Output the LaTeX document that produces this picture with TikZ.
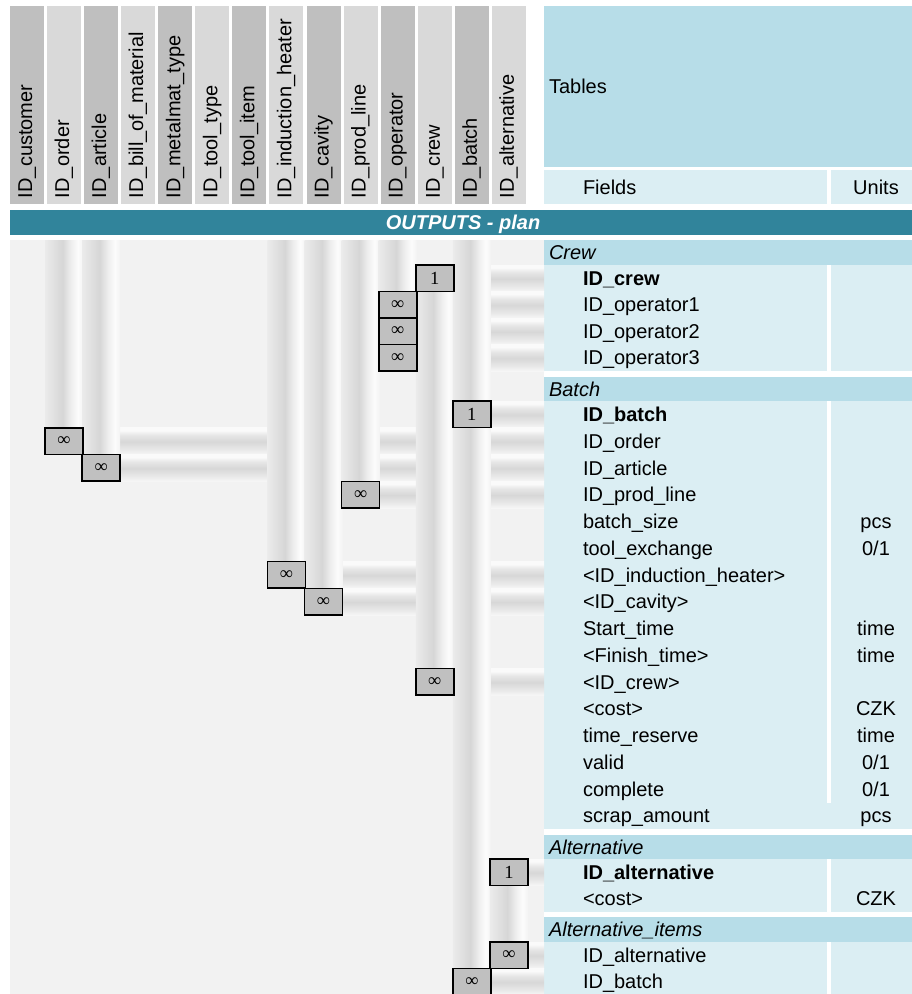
\documentclass[tikz,border=0pt]{standalone}
\usepackage{tikz}
\usepackage{fontspec}
\setmainfont{Liberation Sans}
\newfontfamily\cardfont{Liberation Serif}

\pgfdeclarelayer{bg}
\pgfdeclarelayer{pipes}
\pgfsetlayers{bg,pipes,main}

% palette
\definecolor{hdrdark}{HTML}{BFBFBF}
\definecolor{hdrlight}{HTML}{D9D9D9}
\definecolor{tabhead}{HTML}{B7DDE8}
\definecolor{tabrow}{HTML}{DBEEF3}
\definecolor{barteal}{HTML}{31849B}
\definecolor{plotgray}{HTML}{F2F2F2}
\definecolor{boxgray}{HTML}{C0C0C0}
% tones of the tube-like relation runs
\definecolor{vpA}{HTML}{EBEBEB}
\definecolor{vpB}{HTML}{E1E1E1}
\definecolor{vpC}{HTML}{D6D6D6}
\definecolor{vpD}{HTML}{EEEEEE}
\definecolor{vpE}{HTML}{FCFCFC}
\definecolor{vpF}{HTML}{F3F3F3}
\definecolor{hpA}{HTML}{F6F6F6}
\definecolor{hpB}{HTML}{E9E9E9}
\definecolor{hpC}{HTML}{D7D7D7}
\definecolor{hpD}{HTML}{E6E6E6}
\definecolor{hpE}{HTML}{FAFAFA}

\pgfdeclarehorizontalshading{vtube}{100bp}{color(0bp)=(vpA); color(25bp)=(vpA); color(36bp)=(vpB); color(48bp)=(vpC); color(59bp)=(vpD); color(68bp)=(vpE); color(75bp)=(vpF); color(100bp)=(vpF)}
\pgfdeclareverticalshading{htube}{100bp}{color(0bp)=(hpA); color(25bp)=(hpA); color(34bp)=(hpB); color(49bp)=(hpC); color(61bp)=(hpD); color(70bp)=(hpE); color(75bp)=(hpE); color(100bp)=(hpE)}

\tikzset{
  every node/.style={inner sep=0pt, outer sep=0pt},
  txt/.style={font=\fontsize{20}{24}\selectfont},
  colhead/.style={txt, rotate=90, anchor=base west},
  fieldrow/.style={txt, anchor=west, inner xsep=39pt, text height=14.3pt, text depth=0pt},
  sechead/.style={font=\fontsize{20}{24}\selectfont\itshape, anchor=west, inner xsep=5pt, text height=14.3pt, text depth=0pt},
  unitcell/.style={txt, text height=14.3pt, text depth=0pt},
  relbox/.style={draw=black, line width=1.6pt, fill=boxgray, minimum width=38pt, minimum height=26.6pt, font=\cardfont\fontsize{18.5}{18.5}\selectfont},
  vrun/.style={shading=vtube},
  hrun/.style={shading=htube},
}
% horizontal run from a key box to the left edge of its table row
\newcommand\keyrun[2]{\shade[hrun] (#1.east |- #2.north) rectangle (#2.south west);}

\begin{document}
\begin{tikzpicture}[x=1pt,y=-1pt]
\useasboundingbox (0,0) rectangle (912,994);

\begin{pgfonlayer}{bg}
  \fill[white] (0,0) rectangle (912,994);
  % key columns
  \foreach \i/\c in {0/hdrdark,1/hdrlight,2/hdrdark,3/hdrlight,4/hdrdark,5/hdrlight,6/hdrdark,7/hdrlight,8/hdrdark,9/hdrlight,10/hdrdark,11/hdrlight,12/hdrdark,13/hdrlight}
    \fill[\c] ({10+37.07*\i},6) rectangle ++(34,198);
  % table heading
  \fill[tabhead] (544,6) rectangle (912,167);
  \fill[tabrow] (544,170) rectangle (827,204);
  \fill[tabrow] (831,170) rectangle (912,204);
  % title bar
  \fill[barteal] (10,210) rectangle (912,235);
  % relation area
  \fill[plotgray] (10,240) rectangle (544,994);
  % Crew
  \fill[tabhead] (544,240) rectangle (912,265);
  \fill[tabrow] (544,265) rectangle (912,371);
  \fill[white] (827,265) rectangle (831,371);
  % Batch
  \fill[tabhead] (544,377) rectangle (912,401);
  \fill[tabrow] (544,401) rectangle (912,829);
  \fill[white] (827,401) rectangle (831,803);
  % Alternative
  \fill[tabhead] (544,835) rectangle (912,859);
  \fill[tabrow] (544,859) rectangle (912,912);
  \fill[white] (827,859) rectangle (831,912);
  % Alternative_items
  \fill[tabhead] (544,917) rectangle (912,942);
  \fill[tabrow] (544,942) rectangle (912,994);
  \fill[white] (827,942) rectangle (831,994);
\end{pgfonlayer}

% column key names
\foreach \i/\t in {0/customer,1/order,2/article,3/bill\_of\_material,4/metalmat\_type,5/tool\_type,6/tool\_item,7/induction\_heater,8/cavity,9/prod\_line,10/operator,11/crew,12/batch,13/alternative}
  \node[colhead] (head\i) at ({32+37.07*\i},198) {ID\_\t};
\foreach \i in {0,...,13}
  \coordinate (c\i) at ({27+37.07*\i},240);
\coordinate (ux) at (876,0);

\node[txt, anchor=base west] (tables) at (549,93) {Tables};
\node[txt, anchor=base west] (fields) at (583,194) {Fields};
\node[txt, anchor=base] (units) at (876,194) {Units};
\node[text=white, font=\fontsize{20}{24}\selectfont\bfseries\itshape, text height=14.3pt, text depth=0pt] (title) at (463,222.5) {OUTPUTS - plan};

% table headings
\node[sechead] (t-crew) at (544,252.5) {Crew};
\node[sechead] (t-batch) at (544,389) {Batch};
\node[sechead] (t-alt) at (544,847) {Alternative};
\node[sechead] (t-items) at (544,929.5) {Alternative\_items};

% Crew fields
\node[fieldrow, minimum height=26.5pt] (crew-id) at (544,278.25) {\textbf{ID\_crew}};
\node[fieldrow, minimum height=26.5pt] (crew-op1) at (544,304.75) {ID\_operator1};
\node[fieldrow, minimum height=26.5pt] (crew-op2) at (544,331.25) {ID\_operator2};
\node[fieldrow, minimum height=26.5pt] (crew-op3) at (544,357.75) {ID\_operator3};

% Batch fields
\node[fieldrow, minimum height=26.75pt] (b-id) at (544,414.375) {\textbf{ID\_batch}};
\node[fieldrow, minimum height=26.75pt] (b-order) at (544,441.125) {ID\_order};
\node[fieldrow, minimum height=26.75pt] (b-article) at (544,467.875) {ID\_article};
\node[fieldrow, minimum height=26.75pt] (b-line) at (544,494.625) {ID\_prod\_line};
\node[fieldrow, minimum height=26.75pt] (b-size) at (544,521.375) {batch\_size};
\node[fieldrow, minimum height=26.75pt] (b-tool) at (544,548.125) {tool\_exchange};
\node[fieldrow, minimum height=26.75pt] (b-heater) at (544,574.875) {<ID\_induction\_heater>};
\node[fieldrow, minimum height=26.75pt] (b-cavity) at (544,601.625) {<ID\_cavity>};
\node[fieldrow, minimum height=26.75pt] (b-start) at (544,628.375) {Start\_time};
\node[fieldrow, minimum height=26.75pt] (b-finish) at (544,655.125) {<Finish\_time>};
\node[fieldrow, minimum height=26.75pt] (b-crew) at (544,681.875) {<ID\_crew>};
\node[fieldrow, minimum height=26.75pt] (b-cost) at (544,708.625) {<cost>};
\node[fieldrow, minimum height=26.75pt] (b-reserve) at (544,735.375) {time\_reserve};
\node[fieldrow, minimum height=26.75pt] (b-valid) at (544,762.125) {valid};
\node[fieldrow, minimum height=26.75pt] (b-complete) at (544,788.875) {complete};
\node[fieldrow, minimum height=26.75pt] (b-scrap) at (544,815.625) {scrap\_amount};

% Alternative fields
\node[fieldrow, minimum height=26.5pt] (a-id) at (544,872.25) {\textbf{ID\_alternative}};
\node[fieldrow, minimum height=26.5pt] (a-cost) at (544,898.75) {<cost>};

% Alternative_items fields
\node[fieldrow, minimum height=26.5pt] (i-alt) at (544,955.25) {ID\_alternative};
\node[fieldrow, minimum height=26.5pt] (i-batch) at (544,981.75) {ID\_batch};

% units
\node[unitcell] (u-size) at (b-size -| ux) {pcs};
\node[unitcell] (u-tool) at (b-tool -| ux) {0/1};
\node[unitcell] (u-start) at (b-start -| ux) {time};
\node[unitcell] (u-finish) at (b-finish -| ux) {time};
\node[unitcell] (u-cost) at (b-cost -| ux) {CZK};
\node[unitcell] (u-reserve) at (b-reserve -| ux) {time};
\node[unitcell] (u-valid) at (b-valid -| ux) {0/1};
\node[unitcell] (u-complete) at (b-complete -| ux) {0/1};
\node[unitcell] (u-scrap) at (b-scrap -| ux) {pcs};
\node[unitcell] (u-acost) at (a-cost -| ux) {CZK};

% cardinality boxes
\node[relbox] (k1) at (crew-id -| c11) {1};
\node[relbox] (o1) at (crew-op1 -| c10) {∞};
\node[relbox] (o2) at (crew-op2 -| c10) {∞};
\node[relbox] (o3) at (crew-op3 -| c10) {∞};
\node[relbox] (bb) at (b-id -| c12) {1};
\node[relbox] (bo) at (b-order -| c1) {∞};
\node[relbox] (ba) at (b-article -| c2) {∞};
\node[relbox] (bp) at (b-line -| c9) {∞};
\node[relbox] (bi) at (b-heater -| c7) {∞};
\node[relbox] (bc) at (b-cavity -| c8) {∞};
\node[relbox] (bk) at (b-crew -| c11) {∞};
\node[relbox] (a1) at (a-id -| c13) {1};
\node[relbox] (ia) at (i-alt -| c13) {∞};
\node[relbox] (ib) at (i-batch -| c12) {∞};

\begin{pgfonlayer}{pipes}
  % runs from each box to its field
  \keyrun{k1}{crew-id}
  \keyrun{o1}{crew-op1}
  \keyrun{o2}{crew-op2}
  \keyrun{o3}{crew-op3}
  \keyrun{bb}{b-id}
  \keyrun{bo}{b-order}
  \keyrun{ba}{b-article}
  \keyrun{bp}{b-line}
  \keyrun{bi}{b-heater}
  \keyrun{bc}{b-cavity}
  \keyrun{bk}{b-crew}
  \keyrun{a1}{a-id}
  \keyrun{ia}{i-alt}
  \keyrun{ib}{i-batch}
  % runs down the key columns
  \shade[vrun] (bo.west |- c1) rectangle (bo.east);
  \shade[vrun] (ba.west |- c2) rectangle (ba.east);
  \shade[vrun] (bi.west |- c7) rectangle (bi.east);
  \shade[vrun] (bc.west |- c8) rectangle (bc.east);
  \shade[vrun] (bp.west |- c9) rectangle (bp.east);
  \shade[vrun] (o3.west |- c10) rectangle (o3.east);
  \shade[vrun] (k1.west) rectangle (bk.east);
  \shade[vrun] (ib.west |- c12) rectangle (ib.east);
  \shade[vrun] (a1.west) rectangle (ia.east);
\end{pgfonlayer}
\end{tikzpicture}
\end{document}
